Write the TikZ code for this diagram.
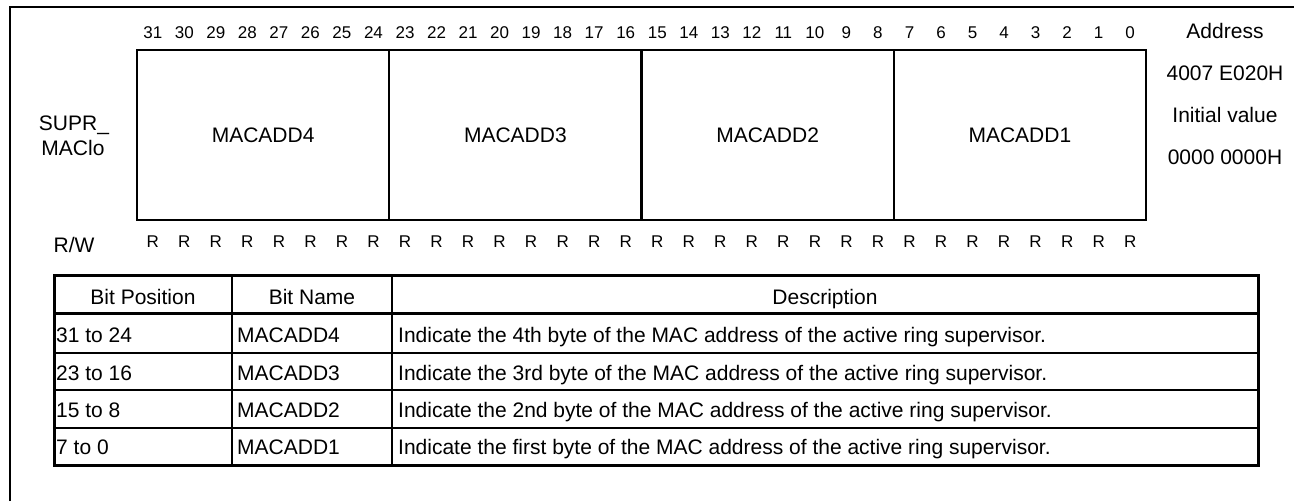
\documentclass[tikz,border=0pt]{standalone}
\usepackage{fontspec}
\setmainfont{Liberation Sans}
\begin{document}
\begin{tikzpicture}[x=1pt,y=-1pt,
  txt/.style={inner sep=0pt, font=\fontsize{21}{25}\selectfont},
  small/.style={inner sep=0pt, font=\fontsize{17}{20}\selectfont},
  regline/.style={line width=2.2pt},
  outerline/.style={line width=3pt},
  innerline/.style={line width=2pt}]
\useasboundingbox (0,0) rectangle (1294,501);
% outer frame (open at right and bottom)
\draw[line width=2pt] (10,501) -- (10,7) -- (1294,7);
% register box
\draw[regline] (137,50) rectangle (1146,220);
\foreach \k in {1,2,3} {
  \draw[regline] ({137+252.25*\k},50) -- ({137+252.25*\k},220);
}
% bit numbers and R
\foreach \i in {0,...,31} {
  \pgfmathsetmacro{\xx}{137+31.53*(31-\i)+15.77}
  \node[small, anchor=base] (b\i) at (\xx,38) {\i};
  \node[small, anchor=base] (r\i) at (\xx,247.5) {R};
}
% field names
\node[txt, anchor=base] (f4) at ({137+252.25*0.5},142) {MACADD4};
\node[txt, anchor=base] (f3) at ({137+252.25*1.5},142) {MACADD3};
\node[txt, anchor=base] (f2) at ({137+252.25*2.5},142) {MACADD2};
\node[txt, anchor=base] (f1) at ({137+252.25*3.5},142) {MACADD1};
% left labels
\node[txt, anchor=base] (reg1) at (74,130) {SUPR\_};
\node[txt, anchor=base] (reg2) at (73,155) {MAClo};
\node[txt, anchor=base] (rw) at (74,252) {R/W};
% right labels
\node[txt, anchor=base] (addr) at (1225,38) {Address};
\node[txt, anchor=base] (addrv) at (1225,80) {4007 E020H};
\node[txt, anchor=base] (init) at (1225,122) {Initial value};
\node[txt, anchor=base] (initv) at (1225,164) {0000 0000H};
% table
\draw[innerline] (54,352.7) -- (1258,352.7);
\draw[innerline] (54,390) -- (1258,390);
\draw[innerline] (54,427.7) -- (1258,427.7);
\draw[outerline] (54,313.5) -- (1258,313.5);
\draw[innerline] (232,275) -- (232,465);
\draw[innerline] (392,275) -- (392,465);
\draw[outerline] (54,275) rectangle (1258,465);
% header
\node[txt, anchor=base] (h1) at (143,304) {Bit Position};
\node[txt, anchor=base] (h2) at (312,304) {Bit Name};
\node[txt, anchor=base] (h3) at (825,304) {Description};
% rows
\node[txt, anchor=base west] (p1) at (56,342.5) {31 to 24};
\node[txt, anchor=base west] (n1) at (237,342.5) {MACADD4};
\node[txt, anchor=base west] (d1) at (398,342.5) {Indicate the 4th byte of the MAC address of the active ring supervisor.};
\node[txt, anchor=base west] (p2) at (56,380) {23 to 16};
\node[txt, anchor=base west] (n2) at (237,380) {MACADD3};
\node[txt, anchor=base west] (d2) at (398,380) {Indicate the 3rd byte of the MAC address of the active ring supervisor.};
\node[txt, anchor=base west] (p3) at (56,417.3) {15 to 8};
\node[txt, anchor=base west] (n3) at (237,417.3) {MACADD2};
\node[txt, anchor=base west] (d3) at (398,417.3) {Indicate the 2nd byte of the MAC address of the active ring supervisor.};
\node[txt, anchor=base west] (p4) at (56,454.7) {7 to 0};
\node[txt, anchor=base west] (n4) at (237,454.7) {MACADD1};
\node[txt, anchor=base west] (d4) at (398,454.7) {Indicate the first byte of the MAC address of the active ring supervisor.};
\end{tikzpicture}
\end{document}
